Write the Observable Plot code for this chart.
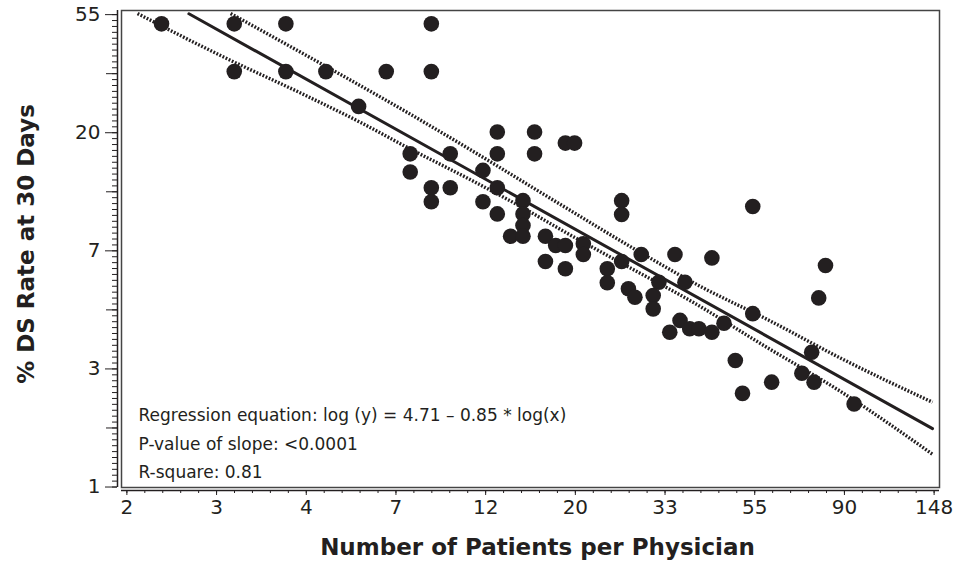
<!DOCTYPE html>
<html><head><meta charset="utf-8">
<script src="https://cdn.jsdelivr.net/npm/d3@7"></script>
<script src="https://cdn.jsdelivr.net/npm/@observablehq/plot@0.6"></script>
<style>body{margin:0;background:#fff}</style>
</head><body><div id="chart"></div>
<script>
// Scatter points: number of patients per physician, % DS rate at 30 days
const patients = [2, 3, 4, 9, 3, 4, 5, 7, 9, 6, 8, 8, 9, 9, 10, 10, 13, 16, 13, 16, 19, 20, 12, 13, 12, 13, 15, 15, 15, 14, 15, 17, 18, 19, 21, 21, 17, 19, 26, 26, 24, 24, 26, 29, 35, 27, 28, 32, 31, 31, 37, 34, 36, 38, 40, 43, 54, 81, 78, 54, 46, 43, 49, 75, 71, 76, 60, 51, 95];
const dsRate = [50.5, 50.5, 50.5, 50.5, 33.7, 33.7, 33.7, 33.7, 33.7, 25.1, 16.8, 14.4, 12.6, 11.2, 16.8, 12.6, 20.2, 20.2, 16.8, 16.8, 18.4, 18.4, 14.6, 12.6, 11.2, 10.1, 11.3, 10.1, 9.15, 8.36, 8.36, 8.36, 7.73, 7.73, 7.84, 7.16, 6.75, 6.35, 11.3, 10.05, 6.35, 5.64, 6.75, 7.16, 7.16, 5.36, 4.99, 5.66, 5.06, 4.52, 5.66, 3.71, 4.10, 3.82, 3.82, 6.96, 10.75, 6.53, 4.96, 4.34, 4.00, 3.71, 2.92, 3.13, 2.62, 2.43, 2.43, 2.21, 2.02];

// Fitted regression line (end points) and dotted confidence limits
const fitX = [2.33, 147.1];
const fitY = [55.0, 1.64];
const upperX = [2.94, 4.86, 7.89, 11.4, 18.2, 28.9, 40.4, 58.6, 89.6, 147.1];
const upperY = [55.1, 36.1, 23.8, 17.1, 11.1, 7.28, 5.46, 4.13, 2.94, 2.05];
const lowerX = [1.75, 2.78, 4.41, 6.07, 7.89, 11.4, 15.4, 18.5, 26.9, 38.8, 56.4, 89.6, 147.1];
const lowerY = [55.1, 38.6, 27.8, 21.9, 17.7, 13.3, 10.4, 8.85, 6.47, 4.77, 3.37, 2.21, 1.32];

// Axes: ticks at natural-log positions, labels as printed
const xTickLn = [0.5, 1, 1.5, 2, 2.5, 3, 3.5, 4, 4.5, 5];
const xTickLabels = ["2", "3", "4", "7", "12", "20", "33", "55", "90", "148"];
const yTickLn = [0, 1, 2, 3, 4];
const yTickLabels = ["1", "3", "7", "20", "55"];
const xDomainLn = [0.47, 5.03];
const yDomainLn = [-0.004, 4.035];

const xTitle = "Number of Patients per Physician";
const yTitle = "% DS Rate at 30 Days";
const annotation = [
  "Regression equation: log (y) = 4.71 \u2013 0.85 * log(x)",
  "P-value of slope: <0.0001",
  "R-square: 0.81"
];

const ln = Math.log;
const points = patients.map((p, i) => ({lx: ln(p), ly: ln(dsRate[i])}));
const fit = fitX.map((x, i) => ({lx: ln(x), ly: ln(fitY[i])}));
const upper = upperX.map((x, i) => ({lx: ln(x), ly: ln(upperY[i])}));
const lower = lowerX.map((x, i) => ({lx: ln(x), ly: ln(lowerY[i])}));

const xMinor = d3.range(5, 51).map(k => k / 10);
const yMinor = d3.range(0, 81).map(k => k / 20);
const yMid = [0.5, 1.5, 2.5, 3.5];
const labelOf = (ticks, labels) => d => {
  let best = 0;
  ticks.forEach((t, i) => { if (Math.abs(t - d) < Math.abs(ticks[best] - d)) best = i; });
  return labels[best];
};

const ink = "#231f20";

const chart = Plot.plot({
  width: 957,
  height: 561,
  marginLeft: 121,
  marginRight: 18,
  marginTop: 10,
  marginBottom: 74,
  style: {fontFamily: "DejaVu Sans", fontSize: "20px", color: ink, background: "#fff"},
  x: {type: "linear", domain: xDomainLn},
  y: {type: "linear", domain: yDomainLn},
  marks: [
    Plot.frame({stroke: "#444", strokeWidth: 1.5}),
    // y axis
    Plot.ruleX([xDomainLn[0]], {dx: -4, stroke: ink, strokeWidth: 1.5}),
    Plot.axisY({ticks: yMinor, tickSize: 5, tickFormat: () => "", label: null, dx: -4, stroke: ink}),
    Plot.axisY({ticks: yMid, tickSize: 11, tickFormat: () => "", label: null, dx: -4, stroke: ink}),
    Plot.axisY({ticks: yTickLn, tickSize: 12, tickPadding: 5, label: null, dx: -4, fontSize: 20, stroke: ink, fill: ink,
      tickFormat: labelOf(yTickLn, yTickLabels)}),
    // x axis
    Plot.ruleY([yDomainLn[0]], {dy: 3, stroke: ink, strokeWidth: 1.5}),
    Plot.axisX({ticks: xMinor, tickSize: 3, tickFormat: () => "", label: null, dy: 3, stroke: ink}),
    Plot.axisX({ticks: xTickLn, tickSize: 5, tickPadding: 4, label: null, dy: 3, fontSize: 20, stroke: ink, fill: ink,
      tickFormat: labelOf(xTickLn, xTickLabels)}),
    // confidence limits and fitted line
    Plot.line(upper, {x: "lx", y: "ly", curve: "monotone-x", stroke: ink, strokeWidth: 3.4, strokeDasharray: "1.8 1.6", strokeLinecap: "butt", clip: true}),
    Plot.line(lower, {x: "lx", y: "ly", curve: "monotone-x", stroke: ink, strokeWidth: 3.4, strokeDasharray: "1.8 1.6", strokeLinecap: "butt", clip: true}),
    Plot.line(fit, {x: "lx", y: "ly", stroke: ink, strokeWidth: 3, clip: true}),
    // points
    Plot.dot(points, {x: "lx", y: "ly", r: 7.8, fill: ink, stroke: null}),
    // annotation
    Plot.text([annotation.join("\n")], {frameAnchor: "left", dx: 17, dy: 191.5, textAnchor: "start", lineAnchor: "middle",
      lineHeight: 1.68, fontSize: 17, fill: ink}),
    // axis titles
    Plot.text([xTitle], {frameAnchor: "bottom", dx: 7, dy: 60, textAnchor: "middle", lineAnchor: "middle", fontWeight: "bold", fontSize: 23, fill: ink}),
    Plot.text([yTitle], {frameAnchor: "left", dx: -95, dy: -5, rotate: -90, textAnchor: "middle", lineAnchor: "middle", fontWeight: "bold", fontSize: 23, fill: ink})
  ]
});
document.getElementById("chart").appendChild(chart);
</script>
</body></html>
